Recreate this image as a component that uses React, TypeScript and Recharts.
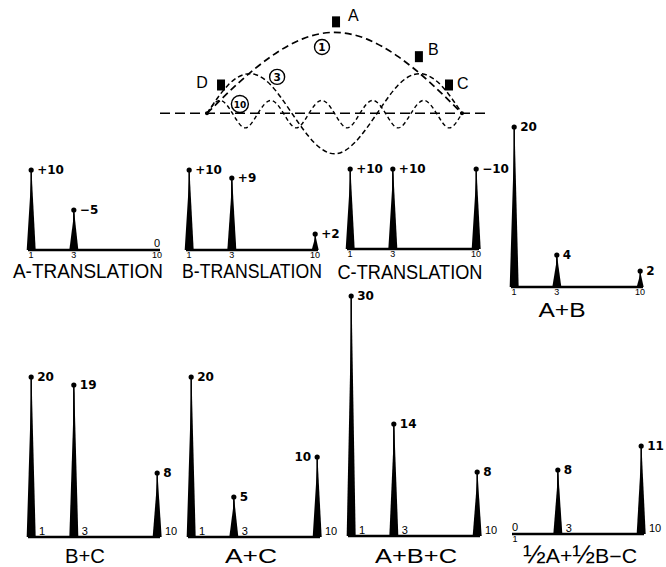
import React from "react";
import {
  Bar,
  BarChart,
  ComposedChart,
  LabelList,
  Line,
  ReferenceDot,
  ReferenceLine,
  Scatter,
  XAxis,
  YAxis,
} from "recharts";

// mode numbers shown on every little spectrum
const MODES = [1, 3, 10];

// modal amplitudes per excitation (signed as lettered on the drawing)
const A_TRANSLATION = [10, -5, 0];
const B_TRANSLATION = [10, 9, 2];
const C_TRANSLATION = [10, 10, -10];
const A_PLUS_B = [20, 4, 2];
const B_PLUS_C = [20, 19, 8];
const A_PLUS_C = [20, 5, 10];
const A_PLUS_B_PLUS_C = [30, 14, 8];
const HALF_A_HALF_B_MINUS_C = [0, 8, 11];

// mode shapes: position along span (0..1) and deflection
const MODE1_T = [0, 0.125, 0.25, 0.375, 0.5, 0.625, 0.75, 0.875, 1];
const MODE1_H = [0, 0.38, 0.7, 0.92, 1.0, 0.92, 0.7, 0.38, 0];
const MODE3_T = [0, 0.083, 0.167, 0.25, 0.333, 0.417, 0.5, 0.583, 0.667, 0.75, 0.833, 0.917, 1];
const MODE3_H = [0, 0.35, 0.49, 0.35, 0, -0.35, -0.5, -0.35, 0, 0.35, 0.49, 0.35, 0];
const MODE10_T = [
  0, 0.05, 0.1, 0.15, 0.2, 0.25, 0.3, 0.35, 0.4, 0.45, 0.5,
  0.55, 0.6, 0.65, 0.7, 0.75, 0.8, 0.85, 0.9, 0.95, 1,
];
const MODE10_H = [
  0, 0.16, 0, -0.18, 0, 0.16, 0, -0.18, 0, 0.16, 0,
  -0.18, 0, 0.16, 0, -0.18, 0, 0.16, 0, -0.18, 0,
];

// pickup locations A-D
const PICKUP_NAMES = ["A", "B", "C", "D"];
const PICKUP_T = [0.506, 0.831, 0.949, 0.055];
const PICKUP_H = [1.13, 0.7, 0.35, 0.35];

// circled mode tags on the shapes
const MODE_TAGS = ["1", "3", "10"];
const TAG_T = [0.451, 0.275, 0.129];
const TAG_H = [0.82, 0.45, 0.115];

const INK = "#000";
const SANS = "'Liberation Sans', Arial, sans-serif";
const DIGITS = "'DejaVu Sans', sans-serif";

const PX_PER_UNIT = 8;
const MARGIN_TOP = 14;
const SIDE = 40; // room either side of the baseline for labels and titles
const AXIS_H = 40;
const PLOT_W = 132;

type PanelSpec = {
  title: string;
  values: number[];
  signed?: boolean;
  left: number;
  base: number;
  yMax: number;
  below: number[];
  leftLabels?: number[];
  titleX: number;
  titleY: number;
  titleW: number;
};

const PANELS: PanelSpec[] = [
  { title: "A-TRANSLATION", values: A_TRANSLATION, signed: true, left: 28, base: 250, yMax: 10, below: MODES, titleX: 88, titleY: 278, titleW: 150 },
  { title: "B-TRANSLATION", values: B_TRANSLATION, signed: true, left: 186, base: 250, yMax: 10, below: MODES, titleX: 252, titleY: 278, titleW: 140 },
  { title: "C-TRANSLATION", values: C_TRANSLATION, signed: true, left: 347, base: 249, yMax: 10, below: MODES, titleX: 410, titleY: 279, titleW: 145 },
  { title: "A+B", values: A_PLUS_B, left: 511, base: 287, yMax: 20, below: MODES, titleX: 562, titleY: 317, titleW: 47 },
  { title: "B+C", values: B_PLUS_C, left: 28, base: 537, yMax: 30, below: [], titleX: 85, titleY: 563, titleW: 40 },
  { title: "A+C", values: A_PLUS_C, left: 188, base: 537, yMax: 30, below: [], leftLabels: [10], titleX: 251, titleY: 563, titleW: 52 },
  { title: "A+B+C", values: A_PLUS_B_PLUS_C, left: 348, base: 536, yMax: 30, below: [], titleX: 416, titleY: 563, titleW: 82 },
  { title: "½A+½B−C", values: HALF_A_HALF_B_MINUS_C, left: 512, base: 534, yMax: 30, below: [1], titleX: 580, titleY: 563, titleW: 114 },
];

function fmt(v: number, signed?: boolean) {
  if (v === 0) return "0";
  if (v < 0) return `−${Math.abs(v)}`;
  return signed ? `+${v}` : `${v}`;
}

function Spike(props: any) {
  const { x, y, width, height } = props;
  if (!height || height <= 0) return <g />;
  const cx = x + width / 2;
  const base = y + height;
  const half = height < 30 ? 3.5 : 4.5;
  return (
    <g>
      <polygon
        points={`${cx - half},${base} ${cx + half},${base} ${cx + 0.4},${y + 2}`}
        fill={INK}
      />
      <line x1={cx} y1={y} x2={cx} y2={base} stroke={INK} strokeWidth={1.6} />
      <circle cx={cx} cy={y} r={2.6} fill={INK} />
    </g>
  );
}

// the drawing letters ½ as a big stacked fraction
function titleParts(title: string) {
  return title.split("½").flatMap((part, i) =>
    i === 0
      ? [part]
      : [
          <tspan key={i} fontSize={25}>
            ½
          </tspan>,
          part,
        ],
  );
}

function Panel({ p }: { p: PanelSpec }) {
  const plotH = p.yMax * PX_PER_UNIT;
  const top = p.base - plotH - MARGIN_TOP;
  const left = p.left - SIDE;
  const base = MARGIN_TOP + plotH;
  const data = MODES.map((mode, i) => ({
    mode,
    amp: Math.abs(p.values[i]),
    label: fmt(p.values[i], p.signed),
  }));

  const tick = (t: any) => {
    const v = t.payload.value;
    if (p.below.includes(v)) {
      return (
        <text x={t.x} y={base + 8.3} textAnchor="middle" fontFamily={SANS} fontSize={9} fill={INK}>
          {v}
        </text>
      );
    }
    return (
      <text x={t.x + 8} y={base - 2.5} textAnchor="start" fontFamily={SANS} fontSize={11} fill={INK}>
        {v}
      </text>
    );
  };

  const valueLabel = (l: any) => {
    const box = l.viewBox ?? l;
    const cx = box.x + box.width / 2;
    const ty = box.y;
    const i = l.index;
    const text = String(l.value);
    if (text === "0") {
      return (
        <text x={cx} y={base - 3} textAnchor="middle" fontFamily={SANS} fontSize={11} fill={INK}>
          0
        </text>
      );
    }
    const onLeft = p.leftLabels?.includes(MODES[i]);
    return (
      <text
        x={onLeft ? cx - 6 : cx + 6}
        y={ty + 4}
        textAnchor={onLeft ? "end" : "start"}
        fontFamily={DIGITS}
        fontWeight="bold"
        fontSize={12}
        fill={INK}
      >
        {text}
      </text>
    );
  };

  const title = () => (
    <text
      x={p.titleX - left}
      y={p.titleY - top}
      textAnchor="middle"
      fontFamily={SANS}
      fontSize={19.5}
      fill={INK}
      textLength={p.titleW}
      lengthAdjust="spacingAndGlyphs"
    >
      {titleParts(p.title)}
    </text>
  );

  return (
    <div style={{ position: "absolute", left, top }}>
      <BarChart
        width={PLOT_W + 2 * SIDE}
        height={MARGIN_TOP + plotH + AXIS_H}
        data={data}
        margin={{ top: MARGIN_TOP, right: SIDE, bottom: 0, left: SIDE }}
      >
        <XAxis
          dataKey="mode"
          type="number"
          scale="sqrt"
          domain={[1, 10]}
          ticks={MODES}
          interval={0}
          padding={{ left: 3, right: 3 }}
          height={AXIS_H}
          axisLine={{ stroke: INK, strokeWidth: 2.5 }}
          tickLine={false}
          tick={tick}
          label={title}
        />
        <YAxis hide domain={[0, p.yMax]} />
        <Bar dataKey="amp" barSize={9} isAnimationActive={false} shape={Spike}>
          <LabelList dataKey="label" content={valueLabel} />
        </Bar>
      </BarChart>
    </div>
  );
}

const pts = (ts: number[], hs: number[]) => ts.map((t, i) => ({ t, h: hs[i] }));

function Pickup(props: any) {
  const { cx, cy, payload } = props;
  const off: Record<string, [number, number, string]> = {
    A: [12, -1, "start"],
    B: [9, -2, "start"],
    C: [8, 4, "start"],
    D: [-19, 3, "middle"],
  };
  const [dx, dy, anchor] = off[payload.name];
  return (
    <g>
      <rect x={cx - 4} y={cy - 5.5} width={8} height={11} fill={INK} />
      <text x={cx + dx} y={cy + dy} textAnchor={anchor as any} fontFamily={SANS} fontSize={16} fill={INK}>
        {payload.name}
      </text>
    </g>
  );
}

function ModeShapes() {
  const pickups = PICKUP_NAMES.map((name, i) => ({ name, t: PICKUP_T[i], h: PICKUP_H[i] }));
  return (
    <div style={{ position: "absolute", left: 160, top: 0 }}>
      <ComposedChart width={330} height={170} margin={{ top: 0, right: 0, bottom: 0, left: 0 }}>
        <XAxis hide dataKey="t" type="number" domain={[0, 1]} padding={{ left: 47, right: 28 }} />
        <YAxis hide type="number" domain={[-0.7, 1.4]} />
        <ReferenceLine y={0} stroke={INK} strokeWidth={1.5} strokeDasharray="10 5" />
        <Line data={pts(MODE1_T, MODE1_H)} dataKey="h" type="natural" stroke={INK} strokeWidth={1.7} strokeDasharray="7 4" dot={false} isAnimationActive={false} />
        <Line data={pts(MODE3_T, MODE3_H)} dataKey="h" type="natural" stroke={INK} strokeWidth={1.5} strokeDasharray="5 3" dot={false} isAnimationActive={false} />
        <Line data={pts(MODE10_T, MODE10_H)} dataKey="h" type="natural" stroke={INK} strokeWidth={1.4} strokeDasharray="4 3" dot={false} isAnimationActive={false} />
        <ReferenceDot x={0} y={0} r={2} fill={INK} stroke="none" />
        <ReferenceDot x={1} y={0} r={2} fill={INK} stroke="none" />
        {MODE_TAGS.map((tag, i) => (
          <ReferenceDot
            key={tag}
            x={TAG_T[i]}
            y={TAG_H[i]}
            r={7}
            shape={(s: any) => (
              <g>
                <circle cx={s.cx} cy={s.cy} r={tag === "10" ? 8.5 : 7.5} fill="#fff" stroke={INK} strokeWidth={1.4} />
                <text x={s.cx} y={s.cy + 3.6} textAnchor="middle" fontFamily={DIGITS} fontWeight="bold" fontSize={tag === "10" ? 9 : 10.5} fill={INK}>
                  {tag}
                </text>
              </g>
            )}
          />
        ))}
        <Scatter data={pickups} dataKey="h" shape={Pickup} isAnimationActive={false} />
      </ComposedChart>
    </div>
  );
}

export default function App() {
  return (
    <div style={{ position: "absolute", left: 0, top: 0, width: 666, height: 567, background: "#fff", overflow: "hidden" }}>
      <ModeShapes />
      {PANELS.map((p) => (
        <Panel key={p.title} p={p} />
      ))}
    </div>
  );
}
